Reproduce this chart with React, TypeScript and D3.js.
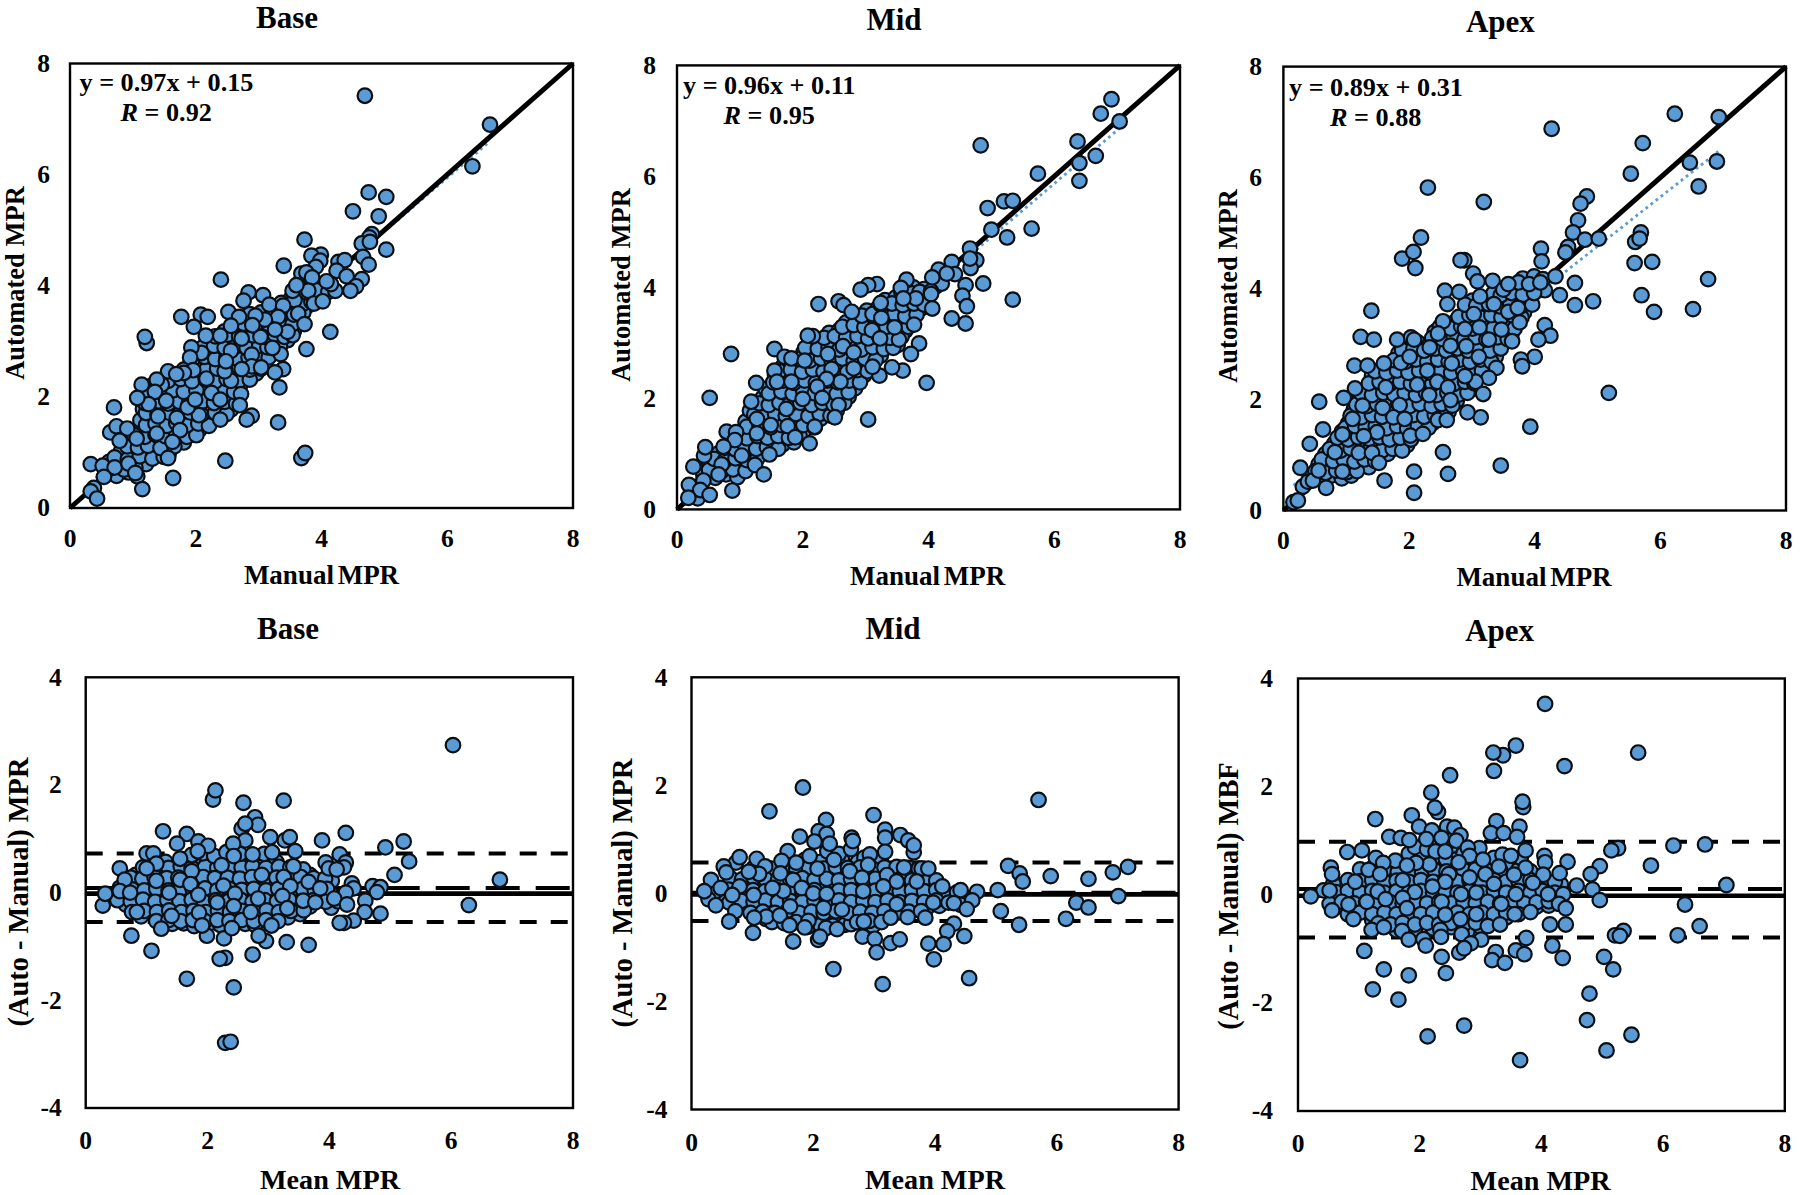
import React from "react";
import * as d3 from "d3";

type P = [number, number];

const xTicks = [0, 2, 4, 6, 8];
const scatterYTicks = [0, 2, 4, 6, 8];
const blandYTicks = [-4, -2, 0, 2, 4];

// Top row: Manual MPR (x) vs Automated MPR (y)
const baseCloud: P[] = [
[.56,.62],[.74,.58],[.93,.64],[1.07,.57],[.62,.83],[.83,.78],[1.02,.84],[1.21,.79],[.81,1.02],[.97,.96],[1.12,1.03],[1.27,.97],[1.42,1.04],[1.57,.98],
[.87,1.21],[1.03,1.18],[1.16,1.24],[1.31,1.17],[1.47,1.22],[1.62,1.25],[1.81,1.18],[1.11,1.42],[1.26,1.37],[1.41,1.43],[1.56,1.38],[1.72,1.44],[1.91,1.36],[2.06,1.41],
[1.12,1.58],[1.29,1.63],[1.46,1.57],[1.61,1.64],[1.77,1.58],[1.94,1.62],[2.11,1.57],[2.28,1.63],[1.16,1.78],[1.32,1.83],[1.51,1.77],[1.66,1.84],[1.84,1.79],[2.02,1.82],[2.21,1.76],[2.41,1.81],[2.56,1.77],
[1.26,2.02],[1.42,1.97],[1.59,2.03],[1.79,1.98],[1.96,2.04],[2.14,1.97],[2.34,2.02],[2.52,1.96],[1.31,2.21],[1.49,2.17],[1.66,2.23],[1.86,2.18],[2.03,2.24],[2.21,2.17],[2.39,2.23],[2.57,2.18],[2.71,2.22],
[1.71,2.38],[1.87,2.43],[2.06,2.37],[2.24,2.42],[2.42,2.38],[2.61,2.43],[2.79,2.37],[2.96,2.42],[1.91,2.58],[2.07,2.63],[2.26,2.57],[2.41,2.62],[2.59,2.58],[2.76,2.63],[2.94,2.57],[3.11,2.62],
[2.01,2.78],[2.21,2.83],[2.36,2.77],[2.54,2.82],[2.71,2.78],[2.91,2.83],[3.06,2.77],[3.21,2.81],[2.22,2.98],[2.41,3.03],[2.61,2.97],[2.81,3.02],[3.01,2.98],[3.16,3.03],[3.31,2.97],[3.46,3.02],
[2.46,3.18],[2.66,3.23],[2.86,3.17],[3.02,3.22],[3.21,3.18],[3.41,3.23],[3.56,3.18],[2.77,3.38],[2.92,3.42],[3.11,3.37],[3.31,3.42],[3.51,3.38],[3.66,3.43],[3.26,3.58],[3.46,3.62],[3.61,3.57],[3.76,3.62],[3.52,3.78],[3.66,3.83],[3.81,3.77],[3.96,3.82],[3.62,4.02],[3.82,3.98],[4.04,4.01]];
const baseDense: P[] = [
[.66,.72],[.86,.69],[1.04,.73],[.71,.91],[.92,.88],[1.11,.93],[1.31,.89],[1.49,.92],[.91,1.11],[1.08,1.09],[1.24,1.12],[1.44,1.08],[1.66,1.11],[1.02,1.31],[1.19,1.28],[1.36,1.32],[1.52,1.29],[1.69,1.33],[1.86,1.28],[2.01,1.31],
[1.21,1.49],[1.36,1.52],[1.54,1.48],[1.69,1.53],[1.86,1.49],[2.04,1.52],[2.21,1.48],[1.21,1.71],[1.39,1.68],[1.56,1.72],[1.74,1.69],[1.91,1.72],[2.09,1.68],[2.31,1.71],[2.49,1.69],[1.19,1.89],[1.41,1.92],[1.56,1.88],[1.74,1.91],[1.89,1.88],[2.11,1.92],[2.29,1.89],[2.46,1.91],[2.64,1.88],
[1.22,2.11],[1.44,2.08],[1.64,2.12],[1.81,2.09],[2.01,2.12],[2.26,2.08],[2.44,2.11],[2.61,2.09],[1.56,2.29],[1.76,2.32],[1.94,2.28],[2.16,2.31],[2.31,2.28],[2.49,2.32],[2.69,2.29],[2.86,2.31],[1.81,2.49],[1.99,2.52],[2.16,2.48],[2.34,2.51],[2.51,2.48],[2.69,2.52],[2.86,2.49],[3.04,2.51],
[1.96,2.69],[2.14,2.72],[2.31,2.68],[2.49,2.72],[2.66,2.69],[2.84,2.71],[3.01,2.68],[3.16,2.71],[2.11,2.89],[2.29,2.92],[2.46,2.88],[2.64,2.91],[2.81,2.88],[3.01,2.92],[3.14,2.89],[3.34,2.91],[2.31,3.09],[2.51,3.12],[2.69,3.08],[2.91,3.11],[3.09,3.08],[3.26,3.12],[3.41,3.08],[3.54,3.11],
[2.59,3.29],[2.76,3.32],[2.94,3.28],[3.16,3.31],[3.34,3.28],[3.54,3.31],[2.86,3.49],[3.04,3.52],[3.21,3.48],[3.39,3.51],[3.56,3.48],[3.71,3.52],[3.36,3.69],[3.56,3.72],[3.71,3.68],[3.84,3.71],[3.59,3.91],[3.76,3.88],[3.91,3.92],[4.11,3.89]];
const baseEdge: P[] = [
[6.4,6.15],[6.68,6.9],[4.69,7.42],[4.75,5.68],[5.03,5.6],[4.5,5.34],[4.91,5.25],[3.73,4.83],[4.8,4.93],[4.76,4.87],[4.64,4.76],[4.77,4.79],[5.03,4.65],[4.66,4.52],[4.75,4.38],[3.4,4.36],[3.99,4.56],[3.84,4.54],[3.98,4.45],[3.91,4.34],[4.27,4.43],[4.37,4.46],[4.24,4.27],[4.4,4.17],[4.64,4.12],[4.55,3.99],[4.46,3.91],[4.22,3.91],[4.15,4.03],[4.08,4.08],[3.68,4.22],[3.76,4.24],[3.85,4.15],[2.4,4.11],[3.79,3.91],[3.88,3.68],[4.02,3.72],[3.57,3.74],[3.54,3.91],[3.6,4.01],[3.07,3.83],[2.84,3.88],[2.76,3.73],[3.17,3.66],[3.39,3.64],[4.14,3.17],[3.76,2.86],[3.63,3.5],[3.73,3.31],[3.46,3.17],[3.31,3.44],[3.1,3.39],[3.26,3.21],[2.95,3.46],[2.52,3.53],[2.69,3.44],[2.56,3.28],[1.77,3.44],[2.08,3.48],[2.19,3.44],[1.97,3.26],[1.22,2.97],[1.19,3.08],[2.16,3.1],[2.39,3.1],[2.73,3.05],[3.03,3.08],[2.9,3.29],[3.35,2.77],[3.39,2.5],[3.26,2.44],[3.33,2.17],[3.22,2.88],[2.89,2.76],[2.89,2.55],[3.04,2.53],[2.56,2.83],[2.09,2.79],[1.93,2.89],[1.91,2.71],[2.73,2.5],[1.96,2.48],[1.81,2.43],[1.56,2.46],[1.69,2.41],[1.46,2.22],[1.38,2.31],[1.14,2.22],[1.35,2.09],[2.17,2.33],[2.56,2.29],[2.46,2.46],[2.48,2.64],[2.25,2.07],[2.72,2.05],[2.7,1.85],[2.89,1.66],[2.81,1.59],[2.39,1.59],[3.31,1.54],[2.05,1.67],[1.87,1.81],[1.53,1.93],[1.25,1.87],[1.07,1.98],[.7,1.81],[1.4,1.65],[1.7,1.62],[1.99,1.95],[2.39,1.95],[.64,1.36],[.74,1.47],[.91,1.43],[.79,1.21],[1.06,1.25],[1.38,1.34],[1.75,1.4],[1.63,1.19],[1.56,.9],[1.64,.54],[2.47,.85],[3.68,.9],[3.74,.99],[1.15,.34],[.33,.79],[.52,.76],[.71,.73],[.93,.8],[1.04,.63],[.54,.56],[.38,.36],[.33,.3],[.43,.17]];

const midCloud: P[] = [
[.42,.62],[.61,.57],[.78,.63],[.96,.58],[.51,.81],[.68,.76],[.86,.83],[1.04,.78],[1.21,.83],[.66,1.01],[.83,.96],[.99,1.03],[1.16,.97],[1.33,1.02],[.86,1.21],[1.02,1.17],[1.18,1.23],[1.34,1.18],[1.51,1.22],[1.68,1.17],[1.86,1.21],
[1.03,1.41],[1.19,1.37],[1.36,1.43],[1.53,1.38],[1.69,1.42],[1.86,1.37],[2.02,1.42],[1.09,1.58],[1.26,1.62],[1.43,1.57],[1.59,1.63],[1.76,1.58],[1.93,1.62],[2.11,1.57],[2.28,1.63],[1.16,1.78],[1.33,1.83],[1.49,1.77],[1.66,1.82],[1.83,1.78],[2.01,1.83],[2.19,1.77],[2.37,1.82],[2.54,1.78],
[1.36,2.01],[1.53,1.97],[1.71,2.03],[1.89,1.98],[2.07,2.03],[2.24,1.97],[2.42,2.02],[2.61,1.98],[2.73,2.03],[1.41,2.17],[1.59,2.22],[1.76,2.17],[1.94,2.23],[2.11,2.18],[2.29,2.22],[2.47,2.17],[2.66,2.23],[2.83,2.18],[1.56,2.42],[1.74,2.37],[1.91,2.43],[2.09,2.38],[2.27,2.42],[2.44,2.37],[2.63,2.43],[2.81,2.38],[2.98,2.42],
[1.68,2.57],[1.86,2.63],[2.03,2.57],[2.21,2.62],[2.39,2.58],[2.57,2.63],[2.76,2.57],[2.93,2.62],[3.07,2.58],[2.01,2.83],[2.19,2.77],[2.36,2.82],[2.53,2.78],[2.71,2.83],[2.89,2.77],[3.06,2.82],[3.24,2.77],[2.11,2.98],[2.29,3.02],[2.46,2.97],[2.63,3.03],[2.81,2.98],[2.98,3.02],[3.16,2.97],[3.34,3.03],[3.51,2.96],
[2.42,3.18],[2.58,3.23],[2.76,3.17],[2.93,3.22],[3.11,3.18],[3.29,3.23],[3.46,3.17],[3.63,3.22],[2.69,3.37],[2.87,3.43],[3.03,3.38],[3.21,3.42],[3.38,3.37],[3.56,3.43],[3.73,3.38],[3.02,3.58],[3.19,3.62],[3.37,3.57],[3.53,3.63],[3.71,3.58],[3.88,3.62],[3.31,3.77],[3.48,3.82],[3.66,3.78],[3.83,3.83],[3.98,3.78],[3.76,4.0],[3.93,3.97],[4.12,4.02],[4.21,4.07]];
const midDense: P[] = [
[.32,.41],[.51,.71],[.71,.69],[.89,.72],[1.09,.69],[.59,.91],[.76,.88],[.93,.92],[1.11,.89],[1.28,.92],[.76,1.11],[.93,1.08],[1.09,1.12],[1.26,1.09],[1.43,1.12],[1.61,1.09],[.94,1.31],[1.11,1.28],[1.28,1.32],[1.44,1.29],[1.61,1.32],[1.78,1.29],[1.95,1.32],
[1.11,1.49],[1.31,1.52],[1.49,1.48],[1.66,1.52],[1.84,1.48],[2.01,1.52],[2.19,1.48],[1.23,1.71],[1.39,1.68],[1.56,1.72],[1.73,1.69],[1.89,1.72],[2.09,1.68],[2.27,1.72],[2.44,1.69],[1.31,1.91],[1.46,1.88],[1.63,1.92],[1.79,1.89],[1.96,1.92],[2.14,1.88],[2.31,1.92],[2.49,1.89],[2.66,1.92],
[1.46,2.09],[1.66,2.12],[1.84,2.08],[2.01,2.12],[2.19,2.09],[2.37,2.12],[2.54,2.08],[2.73,2.11],[1.53,2.29],[1.69,2.32],[1.86,2.28],[2.03,2.32],[2.21,2.28],[2.39,2.32],[2.56,2.29],[2.74,2.32],[2.91,2.29],[1.63,2.49],[1.81,2.52],[1.99,2.48],[2.16,2.52],[2.33,2.48],[2.51,2.52],[2.71,2.48],[2.87,2.51],[3.03,2.49],
[1.93,2.71],[2.11,2.68],[2.29,2.72],[2.46,2.68],[2.63,2.72],[2.81,2.68],[2.99,2.72],[3.16,2.69],[2.04,2.91],[2.24,2.89],[2.41,2.92],[2.58,2.88],[2.76,2.92],[2.93,2.88],[3.11,2.92],[3.29,2.89],[3.44,2.91],[2.34,3.09],[2.51,3.12],[2.69,3.09],[2.87,3.12],[3.04,3.08],[3.21,3.12],[3.39,3.09],[3.57,3.11],
[2.63,3.29],[2.81,3.32],[2.98,3.28],[3.16,3.32],[3.33,3.29],[3.51,3.32],[3.68,3.29],[2.94,3.49],[3.11,3.52],[3.29,3.48],[3.46,3.52],[3.63,3.48],[3.81,3.51],[3.24,3.69],[3.42,3.71],[3.59,3.68],[3.77,3.71],[3.93,3.69],[3.57,3.91],[3.74,3.89],[3.86,3.92],[4.04,3.93]];
const midEdge: P[] = [
[6.91,7.39],[6.74,7.13],[7.04,6.99],[4.83,6.56],[6.37,6.63],[6.66,6.37],[6.4,6.24],[6.4,5.92],[5.74,6.05],[5.2,5.55],[5.34,5.56],[4.94,5.43],[5.0,5.04],[5.25,4.9],[5.64,5.06],[4.76,4.49],[4.67,4.35],[4.66,4.7],[4.66,4.52],[4.87,4.07],[5.34,3.78],[4.59,4.04],[4.54,3.85],[4.61,3.66],[4.59,3.35],[4.37,3.44],[4.37,4.46],[4.42,4.24],[4.16,4.32],[4.29,4.25],[4.06,4.18],[4.04,3.88],[4.06,3.62],[3.65,4.14],[3.56,3.99],[3.18,4.06],[3.04,4.04],[2.92,3.96],[3.8,3.8],[3.6,3.8],[3.24,3.72],[2.57,3.75],[2.65,3.68],[2.25,3.7],[2.78,3.56],[3.85,2.99],[3.72,2.8],[3.97,2.28],[3.59,2.5],[3.42,2.56],[3.22,2.41],[3.11,2.57],[3.04,1.62],[3.77,3.33],[3.53,3.06],[3.46,3.28],[3.25,3.45],[3.1,3.23],[3.23,3.08],[.86,2.8],[.52,2.01],[1.26,2.28],[1.55,2.89],[1.71,2.75],[1.82,2.72],[2.03,2.68],[2.16,3.12],[2.08,3.13],[1.55,2.5],[1.59,2.3],[1.82,2.3],[2.4,2.8],[2.46,2.53],[2.64,2.94],[2.81,2.83],[2.81,2.54],[2.6,2.3],[2.38,2.35],[2.23,2.21],[2.0,1.99],[2.31,2.01],[2.57,1.88],[2.51,1.66],[1.74,1.81],[1.27,1.63],[1.49,1.52],[1.76,1.5],[1.88,1.3],[2.11,1.19],[2.19,1.49],[1.18,1.94],[.79,1.4],[.94,1.39],[.92,1.25],[1.27,1.37],[.74,1.13],[.43,.97],[.45,1.12],[.26,.77],[.19,.44],[.42,.52],[.71,.81],[1.03,.97],[1.47,.99],[1.24,.8],[1.38,.63],[.88,.34],[.66,.63],[.33,.2],[.37,.35],[.52,.26],[.18,.21]];

const apexCloud: P[] = [
[.42,.62],[.59,.57],[.76,.63],[.93,.58],[1.08,.63],[.56,.83],[.71,.77],[.88,.82],[1.04,.78],[1.23,.83],[1.36,.78],[.67,1.02],[.83,.97],[.99,1.03],[1.16,.98],[1.31,1.03],[1.49,.97],[1.66,1.02],[.81,1.21],[.97,1.17],[1.14,1.23],[1.31,1.18],[1.47,1.22],[1.63,1.17],[1.81,1.22],[1.97,1.18],
[.93,1.42],[1.09,1.38],[1.26,1.43],[1.41,1.37],[1.59,1.42],[1.76,1.38],[1.92,1.43],[2.09,1.37],[1.03,1.57],[1.19,1.63],[1.36,1.58],[1.53,1.62],[1.69,1.57],[1.87,1.63],[2.03,1.58],[2.21,1.63],[2.37,1.57],[1.12,1.82],[1.29,1.77],[1.46,1.83],[1.62,1.78],[1.79,1.82],[1.96,1.77],[2.13,1.83],[2.31,1.77],[2.47,1.82],[2.63,1.78],
[1.21,2.02],[1.38,1.97],[1.55,2.03],[1.72,1.98],[1.89,2.03],[2.07,1.97],[2.23,2.02],[2.41,1.97],[2.57,2.03],[2.76,1.98],[1.29,2.18],[1.46,2.23],[1.63,2.17],[1.79,2.22],[1.97,2.18],[2.14,2.23],[2.31,2.17],[2.49,2.22],[2.66,2.17],[2.83,2.22],[2.99,2.18],
[1.41,2.42],[1.58,2.37],[1.75,2.43],[1.92,2.38],[2.09,2.43],[2.27,2.37],[2.44,2.42],[2.61,2.38],[2.79,2.43],[2.96,2.37],[1.71,2.62],[1.88,2.57],[2.06,2.63],[2.21,2.58],[2.39,2.62],[2.57,2.57],[2.73,2.63],[2.91,2.58],[3.08,2.62],[3.23,2.57],
[1.83,2.83],[2.01,2.78],[2.18,2.82],[2.36,2.77],[2.53,2.83],[2.71,2.78],[2.87,2.83],[3.04,2.77],[3.21,2.82],[3.38,2.77],[1.96,2.98],[2.14,3.03],[2.31,2.97],[2.48,3.02],[2.66,2.97],[2.83,3.03],[3.01,2.97],[3.18,3.02],[3.36,2.97],[3.52,3.03],
[2.41,3.22],[2.58,3.17],[2.76,3.23],[2.93,3.17],[3.11,3.22],[3.29,3.17],[3.46,3.22],[3.63,3.17],[2.71,3.38],[2.88,3.43],[3.06,3.37],[3.22,3.42],[3.39,3.37],[3.57,3.43],[3.73,3.38],[2.97,3.62],[3.14,3.57],[3.31,3.63],[3.48,3.57],[3.66,3.62],[3.83,3.57],[3.01,3.78],[3.23,3.82],[3.41,3.77],[3.58,3.83],[3.76,3.78],[3.93,3.82],[3.51,3.98],[3.68,4.02],[3.86,3.97],[4.03,4.02],[4.16,3.97],[3.81,4.18],[3.99,4.22],[4.13,4.17],[4.33,4.22]];
const apexDense: P[] = [
[.31,.43],[.39,.52],[.51,.71],[.67,.68],[.84,.72],[1.01,.69],[1.17,.71],[.61,.92],[.79,.89],[.96,.92],[1.13,.88],[1.29,.92],[1.46,.89],[.74,1.11],[.91,1.08],[1.07,1.12],[1.24,1.09],[1.39,1.12],[1.57,1.08],[1.74,1.11],[1.89,1.08],[.86,1.31],[1.03,1.28],[1.19,1.32],[1.36,1.29],[1.53,1.32],[1.69,1.28],[1.86,1.31],[2.03,1.28],
[.99,1.49],[1.14,1.52],[1.31,1.49],[1.47,1.52],[1.64,1.48],[1.81,1.52],[1.97,1.48],[2.14,1.52],[2.31,1.49],[1.07,1.71],[1.24,1.68],[1.41,1.72],[1.57,1.69],[1.74,1.72],[1.91,1.68],[2.07,1.72],[2.24,1.69],[2.41,1.72],[2.56,1.69],[1.16,1.91],[1.33,1.88],[1.49,1.92],[1.67,1.89],[1.83,1.92],[2.01,1.88],[2.17,1.92],[2.36,1.88],[2.52,1.92],[2.69,1.89],
[1.24,2.11],[1.41,2.08],[1.59,2.12],[1.76,2.09],[1.93,2.12],[2.11,2.08],[2.27,2.12],[2.44,2.08],[2.61,2.12],[2.79,2.09],[2.93,2.12],[1.36,2.29],[1.53,2.32],[1.69,2.28],[1.86,2.32],[2.03,2.28],[2.21,2.32],[2.37,2.28],[2.54,2.32],[2.71,2.28],[2.89,2.32],[3.04,2.29],[1.46,2.51],[1.64,2.48],[1.81,2.52],[1.99,2.48],[2.16,2.52],[2.33,2.48],[2.51,2.52],[2.67,2.48],[2.86,2.52],[3.02,2.49],[3.16,2.52],
[1.76,2.71],[1.94,2.68],[2.11,2.72],[2.29,2.68],[2.46,2.72],[2.63,2.68],[2.81,2.72],[2.97,2.68],[3.14,2.72],[3.31,2.68],[1.89,2.89],[2.07,2.92],[2.24,2.88],[2.42,2.92],[2.59,2.88],[2.77,2.92],[2.94,2.88],[3.11,2.92],[3.29,2.88],[3.46,2.92],[2.03,3.12],[2.37,3.11],[2.53,3.09],[2.71,3.12],[2.88,3.08],[3.06,3.12],[3.23,3.08],[3.41,3.12],[3.57,3.09],
[2.49,3.31],[2.66,3.28],[2.83,3.32],[3.01,3.28],[3.17,3.32],[3.34,3.28],[3.52,3.32],[3.68,3.28],[2.79,3.49],[2.96,3.52],[3.13,3.48],[3.31,3.52],[3.47,3.48],[3.64,3.52],[3.79,3.48],[2.89,3.71],[3.07,3.69],[3.27,3.72],[3.44,3.68],[3.61,3.72],[3.79,3.69],[3.96,3.71],[3.34,3.91],[3.46,3.88],[3.63,3.92],[3.81,3.89],[3.99,3.92],[3.74,4.11],[3.91,4.08],[4.09,4.11]];
const apexEdge: P[] = [
[6.23,7.15],[6.93,7.09],[4.27,6.88],[5.72,6.62],[6.47,6.27],[6.9,6.29],[5.53,6.07],[6.61,5.84],[2.3,5.82],[3.19,5.56],[4.83,5.66],[4.73,5.53],[4.69,5.23],[4.61,5.01],[4.8,4.88],[5.02,4.9],[5.69,5.01],[5.6,4.84],[5.67,4.9],[5.59,4.46],[5.87,4.48],[6.76,4.17],[5.7,3.88],[5.9,3.58],[6.52,3.63],[2.19,4.92],[1.89,4.54],[2.07,4.66],[2.1,4.37],[4.1,4.72],[4.53,4.75],[4.49,4.65],[4.11,4.49],[4.64,4.1],[4.64,3.7],[4.93,3.77],[4.4,3.88],[4.16,3.34],[4.25,3.15],[4.06,3.08],[4.0,2.77],[3.78,2.72],[3.8,2.6],[5.18,2.12],[3.93,1.51],[3.14,1.68],[2.93,1.77],[3.46,.81],[1.61,.54],[2.08,.7],[2.62,.66],[2.54,1.05],[2.08,.32],[2.88,4.51],[2.82,4.51],[3.02,4.27],[3.09,4.13],[3.33,4.14],[2.57,3.96],[2.8,3.94],[2.61,3.72],[3.13,3.86],[3.5,3.98],[3.58,4.08],[3.35,3.72],[3.58,3.58],[3.73,3.65],[3.76,3.39],[3.47,3.26],[3.64,3.05],[3.39,2.57],[3.27,2.39],[3.06,2.32],[3.18,2.1],[2.89,2.42],[2.91,2.96],[3.11,2.77],[3.27,3.08],[3.12,3.3],[3.03,3.54],[2.89,3.27],[2.66,2.97],[2.68,2.65],[2.54,3.41],[2.46,3.19],[2.08,3.08],[1.81,3.08],[1.87,2.66],[2.01,2.77],[2.33,2.94],[2.29,2.52],[2.45,2.32],[2.13,2.27],[2.62,2.22],[2.66,1.99],[2.32,2.08],[1.85,1.9],[1.58,1.85],[1.63,2.22],[1.14,2.2],[.96,2.03],[.57,1.96],[1.26,1.89],[1.1,1.65],[.94,1.37],[.63,1.46],[.42,1.2],[1.13,2.61],[1.34,2.61],[1.6,2.65],[1.23,3.13],[1.44,3.08],[1.4,3.6],[1.49,1.41],[1.28,1.34],[1.75,1.68],[1.93,1.65],[2.02,1.35],[2.22,1.38],[2.46,1.63],[2.6,1.63],[1.2,1.04],[1.41,1.04],[1.52,.86],[.82,1.05],[.94,.7],[.68,.41],[.47,.54],[.27,.77],[.56,.72],[.16,.15],[.23,.18]];

// Bottom row: Mean MPR (x) vs difference (y)
const baseDiffCloud: P[] = [
[.82,.33],[1.02,.38],[1.21,.36],[1.42,.41],[1.63,.37],[1.84,.42],[2.03,.38],[2.22,.41],[2.43,.36],[2.64,.42],[2.84,.37],[3.03,.41],[3.24,.36],[3.46,.38],[3.68,.33],[1.31,.57],[1.52,.53],[1.71,.58],[1.93,.55],[2.13,.52],[2.33,.57],[2.53,.53],[2.76,.58],[2.94,.53],[3.13,.57],
[.67,.11],[.87,.17],[1.06,.12],[1.26,.18],[1.47,.13],[1.68,.18],[1.88,.12],[2.08,.17],[2.28,.13],[2.48,.18],[2.68,.12],[2.87,.17],[3.07,.13],[3.27,.18],[3.47,.12],[3.68,.16],[3.88,.12],[4.04,.22],
[.46,-.04],[.62,-.09],[.83,-.03],[1.03,-.08],[1.22,-.02],[1.44,-.09],[1.64,-.03],[1.83,-.08],[2.04,-.02],[2.23,-.09],[2.44,-.03],[2.63,-.08],[2.84,-.02],[3.04,-.09],[3.23,-.03],[3.44,-.08],[3.64,-.02],[3.84,-.08],[4.02,-.02],
[.66,-.22],[.87,-.27],[1.06,-.21],[1.27,-.28],[1.46,-.22],[1.67,-.27],[1.87,-.21],[2.07,-.28],[2.27,-.22],[2.47,-.27],[2.66,-.21],[2.87,-.28],[3.07,-.22],[3.26,-.27],[3.47,-.21],[3.68,-.26],[4.03,-.28],
[.91,-.44],[1.12,-.41],[1.31,-.46],[1.52,-.42],[1.72,-.47],[1.92,-.41],[2.12,-.46],[2.32,-.42],[2.52,-.47],[2.72,-.41],[2.92,-.46],[3.12,-.42],[3.32,-.46],[3.52,-.4],[1.42,-.58],[1.61,-.57],[1.78,-.62],[2.02,-.58],[2.21,-.6],[2.62,-.58],[2.78,-.6],[3.02,-.57]];
const baseDiffDense: P[] = [
[.94,.47],[1.13,.49],[1.36,.46],[1.56,.49],[1.74,.46],[1.96,.48],[2.16,.46],[2.36,.49],[2.56,.47],[2.74,.49],[2.96,.46],[3.17,.48],[3.36,.47],[3.57,.43],[1.74,.7],[1.92,.73],[2.11,.68],[2.31,.75],[2.53,.72],[2.93,.72],[.74,.28],[.93,.26],[1.13,.29],[1.33,.27],[1.52,.28],[1.73,.26],[1.93,.29],[2.12,.27],[2.33,.28],[2.53,.26],[2.73,.29],[2.93,.27],[3.13,.28],[3.33,.26],[3.53,.29],[3.74,.27],[3.93,.26],
[.56,.09],[.76,.06],[.96,.04],[1.16,.07],[1.36,.04],[1.56,.07],[1.76,.05],[1.96,.08],[2.16,.04],[2.36,.07],[2.56,.05],[2.76,.07],[2.96,.04],[3.16,.07],[3.36,.04],[3.56,.07],[3.76,.04],[3.96,.07],[.52,-.14],[.74,-.16],[.94,-.13],[1.14,-.17],[1.34,-.14],[1.54,-.16],[1.74,-.13],[1.94,-.17],[2.14,-.14],[2.34,-.16],[2.54,-.13],[2.74,-.17],[2.94,-.14],[3.14,-.16],[3.34,-.13],[3.74,-.14],[3.94,-.17],[4.14,-.16],
[.76,-.36],[.96,-.34],[1.17,-.36],[1.37,-.33],[1.57,-.36],[1.77,-.34],[1.97,-.36],[2.17,-.33],[2.37,-.36],[2.57,-.34],[2.77,-.36],[2.97,-.33],[3.17,-.36],[3.37,-.34],[3.58,-.33],[1.16,-.53],[1.36,-.51],[1.56,-.53],[1.76,-.51],[1.96,-.53],[2.16,-.51],[2.36,-.53],[2.56,-.51],[2.76,-.53],[2.96,-.51],[3.16,-.53]];
const baseDiffEdge: P[] = [
[6.03,2.74],[2.09,1.73],[2.13,1.9],[2.59,1.67],[3.25,1.71],[2.78,1.4],[2.83,1.26],[2.56,1.19],[2.62,1.28],[1.27,1.14],[1.66,1.09],[4.27,1.11],[3.03,1.03],[3.27,.97],[3.35,1.03],[3.88,.97],[5.22,.95],[4.92,.84],[2.62,.97],[1.5,.91],[1.85,.95],[2.01,.87],[2.42,.91],[1.84,.77],[3.44,.77],[3.06,.75],[2.74,.71],[4.17,.71],[5.31,.58],[1.0,.73],[1.11,.73],[1.16,.54],[.56,.45],[1.0,.45],[1.55,.63],[2.23,.51],[2.43,.68],[3.41,.49],[3.94,.56],[3.99,.45],[4.27,.56],[4.24,.47],[4.12,.43],[5.07,.33],[6.8,.24],[1.74,.4],[.64,.24],[1.16,.22],[1.55,.24],[2.89,.33],[3.25,.29],[3.66,.2],[2.26,.13],[1.72,.16],[3.36,.12],[3.85,.08],[4.37,.17],[4.4,.08],[4.71,.12],[4.84,.1],[4.78,.01],[4.27,0],[.28,-.24],[.32,-.02],[.56,.03],[.73,0],[1.37,0],[1.85,-.04],[2.45,-.02],[2.83,-.11],[3.23,-.06],[4.08,-.11],[4.59,-.15],[3.57,-.15],[3.77,-.18],[4.29,-.22],[6.29,-.23],[.84,-.36],[1.41,-.43],[1.86,-.37],[2.16,-.18],[2.43,-.25],[2.71,-.36],[3.05,-.61],[3.31,-.29],[4.58,-.36],[4.84,-.39],[4.4,-.52],[4.24,-.56],[4.17,-.56],[1.24,-.67],[.75,-.8],[1.08,-1.08],[1.66,-1.6],[2.27,-.85],[1.99,-.8],[2.4,-.66],[1.91,-.61],[2.96,-.9],[2.84,-.8],[3.3,-.92],[3.66,-.97],[2.74,-1.15],[2.29,-1.21],[2.2,-1.23],[2.43,-1.76],[2.29,-2.79],[2.38,-2.77]];

const midDiffCloud: P[] = [
[1.22,.33],[1.41,.38],[1.62,.33],[1.82,.39],[2.02,.34],[2.22,.38],[2.42,.33],[2.62,.39],[2.82,.34],[3.02,.38],[3.22,.33],[3.42,.37],[3.62,.32],[1.68,.53],[1.86,.62],[2.11,.58],[2.31,.53],[2.47,.62],[2.73,.58],[2.91,.53],[3.12,.57],[2.23,.78],[2.42,.73],[2.62,.82],[2.84,.66],[3.07,.63],
[.73,.18],[.91,.13],[1.11,.18],[1.31,.12],[1.52,.17],[1.71,.13],[1.92,.18],[2.11,.12],[2.31,.17],[2.51,.13],[2.71,.18],[2.91,.12],[3.11,.17],[3.31,.13],[3.51,.18],[3.72,.12],[3.91,.17],[4.12,.03],
[.52,-.08],[.71,-.02],[.92,-.09],[1.11,-.03],[1.32,-.08],[1.52,-.02],[1.72,-.09],[1.92,-.03],[2.12,-.08],[2.32,-.02],[2.52,-.09],[2.72,-.03],[2.92,-.08],[3.12,-.02],[3.32,-.09],[3.52,-.03],[3.72,-.08],[3.92,-.03],[4.16,-.08],
[.87,-.22],[1.07,-.28],[1.27,-.21],[1.47,-.27],[1.67,-.22],[1.87,-.28],[2.07,-.21],[2.27,-.27],[2.47,-.22],[2.67,-.28],[2.87,-.21],[3.07,-.27],[3.27,-.22],[3.47,-.27],[3.67,-.21],[3.87,-.26],[4.07,-.23],[4.33,-.12],
[1.22,-.47],[1.42,-.42],[1.62,-.47],[1.82,-.42],[2.02,-.46],[2.22,-.42],[2.42,-.47],[2.62,-.42],[2.82,-.46],[3.02,-.42],[3.22,-.4],[1.91,-.62],[2.12,-.59],[2.32,-.6],[2.52,-.58],[2.62,-.57],[2.98,-.6]];
const midDiffDense: P[] = [
[1.02,.47],[1.31,.46],[1.52,.49],[1.72,.46],[1.93,.48],[2.17,.46],[2.37,.49],[2.57,.47],[2.77,.48],[2.97,.46],[3.17,.48],[3.37,.49],[3.57,.47],[3.73,.46],[.64,.28],[.83,.26],[1.02,.29],[1.21,.27],[1.42,.24],[1.62,.26],[1.82,.28],[2.02,.25],[2.22,.27],[2.42,.24],[2.62,.27],[2.82,.24],[3.02,.27],[3.22,.24],[3.42,.26],[3.62,.24],[3.82,.27],[4.02,.24],
[.41,.05],[.61,.07],[.81,.04],[1.01,.06],[1.21,.04],[1.41,.06],[1.62,.05],[1.82,.03],[2.02,.06],[2.42,.05],[2.62,.06],[3.02,.05],[3.22,.06],[3.42,.04],[3.62,.06],[3.82,.04],[4.02,.06],[4.22,-.03],[4.36,.02],[.62,-.17],[.82,-.14],[1.02,-.16],[1.22,-.13],[1.42,-.16],[1.62,-.14],[1.82,-.16],[2.02,-.13],[2.22,-.16],[2.42,-.13],[2.62,-.16],[2.82,-.14],[3.02,-.16],[3.22,-.13],[3.42,-.16],[3.62,-.14],[3.82,-.16],[4.02,-.13],[4.22,-.17],[4.42,-.21],
[.72,-.33],[.97,-.36],[1.17,-.34],[1.37,-.36],[1.57,-.33],[1.77,-.36],[1.97,-.34],[2.17,-.36],[2.37,-.33],[2.57,-.36],[2.77,-.34],[2.97,-.36],[3.17,-.33],[3.37,-.36],[3.57,-.34],[3.77,-.33],[1.32,-.53],[1.52,-.55],[1.72,-.53],[1.92,-.51],[2.72,-.53],[2.92,-.51],[3.12,-.53]];
const midDiffEdge: P[] = [
[5.7,1.73],[1.83,1.96],[1.28,1.52],[2.99,1.45],[2.21,1.36],[3.18,1.18],[3.18,1.03],[3.43,1.08],[2.09,1.15],[2.22,1.1],[1.78,1.05],[2.63,1.03],[2.65,.97],[2.02,.96],[2.27,.92],[3.56,.98],[3.65,.76],[3.65,.89],[3.18,.77],[.73,.57],[.79,.67],[1.07,.64],[2.34,.62],[1.94,.69],[2.93,.72],[1.58,.78],[2.9,.53],[.53,.5],[1.21,.5],[1.48,.6],[1.72,.57],[2.07,.46],[2.6,.41],[3.49,.48],[3.78,.46],[3.89,.46],[5.2,.51],[7.17,.49],[5.39,.37],[6.92,.39],[5.44,.22],[5.9,.32],[6.52,.27],[1.11,.36],[1.46,.37],[.57,.39],[.94,.4],[.32,.25],[2.8,.29],[3.21,.34],[3.7,.22],[3.37,.22],[1.67,.25],[.79,.13],[1.81,.1],[3.15,.13],[4.12,.13],[.28,-.11],[.21,.04],[.48,.1],[5.03,.06],[4.42,.06],[4.69,.03],[1.51,.04],[2.0,0],[2.82,.04],[2.22,-.01],[1.33,.1],[.67,-.03],[1.02,-.03],[.4,-.22],[7.01,-.05],[3.97,-.17],[4.61,-.13],[4.31,-.18],[3.37,-.2],[6.32,-.17],[6.52,-.26],[1.62,-.24],[2.17,-.27],[2.47,-.3],[5.08,-.33],[4.52,-.29],[1.23,-.43],[1.03,-.45],[.62,-.52],[6.15,-.47],[1.45,-.41],[2.83,-.52],[3.27,-.45],[3.55,-.44],[3.84,-.45],[5.38,-.58],[4.31,-.56],[4.2,-.7],[1.01,-.73],[1.61,-.59],[1.67,-.89],[1.86,-.63],[2.21,-.64],[2.39,-.66],[2.08,-.86],[2.11,-.8],[2.81,-.8],[3.01,-.84],[3.27,-.92],[3.42,-.85],[3.89,-.93],[4.14,-.94],[4.48,-.79],[3.04,-1.09],[3.98,-1.22],[2.33,-1.4],[3.14,-1.68],[4.56,-1.57]];

const apexDiffCloud: P[] = [
[1.12,.33],[1.32,.38],[1.52,.33],[1.72,.39],[1.92,.34],[2.12,.38],[2.32,.33],[2.52,.39],[2.72,.34],[2.92,.38],[3.12,.33],[3.32,.39],[3.52,.34],[3.72,.32],[1.62,.53],[1.82,.58],[2.02,.53],[2.22,.58],[2.42,.53],[2.62,.47],[2.82,.52],[3.02,.47],[3.42,.56],[1.82,.76],[2.03,.72],[2.43,.66],[2.63,.78],[2.91,.62],
[.72,.18],[.92,.13],[1.12,.18],[1.32,.12],[1.52,.17],[1.72,.13],[1.92,.18],[2.12,.12],[2.32,.17],[2.52,.13],[2.72,.18],[2.92,.12],[3.12,.17],[3.32,.13],[3.52,.18],[3.72,.12],[3.92,.17],[4.16,.13],[4.32,.19],
[.62,-.08],[.82,-.02],[1.02,-.09],[1.22,-.03],[1.42,-.08],[1.62,-.02],[1.82,-.09],[2.02,-.03],[2.22,-.08],[2.42,-.02],[2.62,-.09],[2.82,-.03],[3.02,-.08],[3.22,-.02],[3.42,-.09],[3.62,-.03],[3.82,-.08],[4.02,-.03],
[.72,-.22],[.92,-.28],[1.12,-.23],[1.32,-.27],[1.52,-.22],[1.72,-.28],[1.92,-.21],[2.12,-.27],[2.32,-.22],[2.52,-.28],[2.72,-.21],[2.92,-.27],[3.12,-.22],[3.32,-.28],[3.52,-.21],[3.72,-.27],[3.92,-.22],[4.12,-.2],
[1.22,-.47],[1.42,-.42],[1.62,-.47],[1.82,-.42],[2.02,-.46],[2.22,-.42],[2.42,-.47],[2.62,-.62],[2.82,-.46],[3.02,-.62],[3.22,-.5],[3.42,-.42],[1.62,-.66],[1.92,-.64],[2.22,-.62],[2.52,-.6],[2.78,-.68]];
const apexDiffDense: P[] = [
[1.02,.47],[1.22,.49],[1.42,.46],[1.64,.42],[1.84,.46],[2.04,.42],[2.24,.46],[2.44,.43],[2.72,.46],[2.92,.47],[3.12,.46],[3.32,.46],[3.62,.46],[3.82,.43],[1.92,.88],[2.12,.84],[2.52,.9],[2.32,.92],[2.72,.76],[3.22,.68],[3.36,.74],[3.66,.68],[.58,.2],[.82,.27],[1.02,.25],[1.22,.27],[1.42,.24],[1.62,.26],[1.82,.24],[2.02,.27],[2.22,.24],[2.42,.27],[2.62,.24],[2.82,.26],[3.02,.24],[3.22,.27],[3.42,.24],[3.62,.26],[3.82,.27],[4.02,.25],[4.22,.24],
[.42,.08],[.62,.05],[.82,.07],[1.02,.04],[1.22,.07],[1.42,.04],[1.62,.06],[1.82,.04],[2.02,.07],[2.22,.04],[2.42,.07],[2.62,.04],[2.82,.07],[3.02,.04],[3.22,.07],[3.42,.04],[3.62,.07],[3.82,.04],[4.02,.07],[4.22,.04],[.52,-.17],[.72,-.13],[.92,-.16],[1.12,-.13],[1.32,-.16],[1.52,-.14],[1.72,-.16],[1.92,-.13],[2.12,-.16],[2.32,-.13],[2.52,-.16],[2.72,-.14],[2.92,-.16],[3.12,-.13],[3.32,-.16],[3.52,-.13],[3.72,-.16],[3.92,-.14],[4.12,-.12],
[.82,-.36],[1.02,-.33],[1.22,-.36],[1.42,-.33],[1.62,-.36],[1.82,-.33],[2.02,-.36],[2.22,-.33],[2.42,-.36],[2.62,-.33],[2.82,-.36],[3.02,-.33],[3.22,-.36],[3.42,-.33],[3.62,-.36],[1.32,-.53],[1.52,-.55],[1.72,-.52],[1.92,-.55],[2.12,-.52],[2.32,-.55],[2.52,-.52],[2.72,-.55],[2.92,-.52],[3.12,-.58],[3.32,-.55]];
const apexDiffEdge: P[] = [
[4.06,3.53],[3.37,2.58],[3.21,2.63],[3.58,2.76],[3.22,2.29],[5.59,2.63],[4.38,2.38],[2.5,2.21],[2.19,1.89],[3.7,1.62],[3.69,1.72],[2.3,1.53],[2.25,1.61],[1.87,1.47],[1.27,1.4],[3.26,1.36],[3.64,1.26],[1.99,1.26],[2.45,1.26],[2.57,1.24],[2.67,1.1],[2.2,1.19],[3.17,1.14],[3.38,1.14],[3.6,1.07],[1.5,1.07],[1.69,1.05],[1.83,1.01],[2.11,1.03],[2.36,1.05],[2.6,1.0],[5.26,.86],[5.15,.82],[6.17,.91],[6.69,.93],[3.74,.82],[2.98,.86],[2.79,.87],[1.05,.82],[.81,.79],[1.28,.68],[2.26,.8],[2.42,.8],[2.82,.72],[3.04,.65],[3.5,.72],[4.05,.72],[4.06,.6],[4.43,.61],[2.64,.6],[2.16,.56],[1.6,.63],[1.4,.59],[1.94,.59],[1.79,.54],[5.8,.54],[3.3,.52],[3.74,.5],[.54,.5],[1.16,.46],[4.96,.53],[4.81,.38],[4.3,.4],[4.03,.37],[3.08,.38],[3.55,.37],[2.48,.38],[2.82,.32],[1.35,.38],[.56,.38],[1.72,.27],[.94,.24],[2.42,.24],[3.22,.2],[3.86,.22],[4.58,.17],[7.04,.18],[2.21,.15],[4.84,.1],[.52,.08],[1.31,.06],[1.92,.05],[2.93,.04],[2.68,.01],[3.58,.01],[4.36,.01],[.21,-.03],[1.72,-.06],[4.11,.01],[4.96,-.1],[1.13,-.13],[2.36,-.13],[3.34,-.17],[4.29,-.17],[6.36,-.18],[.56,-.29],[.83,-.18],[1.44,-.08],[1.79,-.25],[.91,-.45],[2.93,-.36],[2.42,-.37],[3.56,-.36],[3.82,-.32],[4.4,-.25],[2.67,-.45],[4.4,-.55],[4.14,-.55],[6.6,-.58],[1.21,-.65],[1.41,-.6],[1.71,-.67],[2.34,-.65],[5.35,-.67],[5.21,-.75],[5.29,-.76],[6.24,-.75],[3.75,-.8],[2.69,-.73],[1.82,-.83],[2.06,-.82],[2.35,-.78],[3.01,-.83],[2.84,-.9],[2.1,-.94],[4.18,-.94],[2.65,-1.07],[2.73,-.99],[3.25,-1.06],[3.58,-1.03],[3.72,-1.1],[1.09,-1.04],[2.36,-1.15],[4.35,-1.17],[3.19,-1.21],[3.4,-1.26],[5.03,-1.15],[5.18,-1.38],[1.41,-1.38],[2.43,-1.45],[1.82,-1.49],[1.23,-1.75],[1.65,-1.94],[4.79,-1.83],[4.75,-2.32],[2.73,-2.42],[2.13,-2.62],[5.48,-2.59],[5.07,-2.88],[3.65,-3.06]];

const fits = [
  { slope: 0.966, intercept: 0.146, xStart: 0.33, xEnd: 6.68, eq: "y = 0.97x + 0.15", r: " = 0.92" },
  { slope: 0.96, intercept: 0.11, xStart: 0.18, xEnd: 7.04, eq: "y = 0.96x + 0.11", r: " = 0.95" },
  { slope: 0.89, intercept: 0.31, xStart: 0.16, xEnd: 6.93, eq: "y = 0.89x + 0.31", r: " = 0.88" },
];
const limits = [
  { upper: 0.727, mean: 0.085, lower: -0.543 },
  { upper: 0.57, mean: 0.01, lower: -0.513 },
  { upper: 0.98, mean: 0.105, lower: -0.79 },
];
const titles = ["Base", "Mid", "Apex"];
const diffLabels = ["(Auto - Manual) MPR", "(Auto - Manual) MPR", "(Auto - Manual) MBF"];
const scatterPts = [baseCloud.concat(baseDense, baseEdge), midCloud.concat(midDense, midEdge), apexCloud.concat(apexDense, apexEdge)];
const diffPts = [baseDiffCloud.concat(baseDiffDense, baseDiffEdge), midDiffCloud.concat(midDiffDense, midDiffEdge), apexDiffCloud.concat(apexDiffDense, apexDiffEdge)];

// layout (pixels)
const topLayout = [
  { l: 70, r: 573, t: 63.5, b: 508, tx: 287, tb: 28, xt: 546.7, xl: 321.5, xb: 583.6, yr: 50, ylx: 24, yly: 283, ex: 79.5, eb: 90.7, rx: 120.5, rb: 121 },
  { l: 677, r: 1180, t: 65.4, b: 509.4, tx: 894, tb: 30, xt: 548, xl: 927.6, xb: 585, yr: 656, ylx: 630, yly: 285, ex: 683, eb: 94, rx: 723.6, rb: 124 },
  { l: 1283.4, r: 1786, t: 66.6, b: 510.5, tx: 1500.4, tb: 32, xt: 549, xl: 1534, xb: 586, yr: 1262, ylx: 1237, yly: 286, ex: 1289, eb: 95.7, rx: 1330, rb: 126 },
];
const botLayout = [
  { l: 85.7, r: 573, t: 677.3, b: 1108, tx: 288, tb: 639, xt: 1149, xl: 330, xb: 1189, yr: 61.7, ylx: 28, yly: 892 },
  { l: 691.5, r: 1178.6, t: 677.3, b: 1109.5, tx: 893, tb: 639, xt: 1151, xl: 935, xb: 1189, yr: 667.5, ylx: 632, yly: 893 },
  { l: 1298, r: 1784.8, t: 678.5, b: 1111, tx: 1499.6, tb: 641, xt: 1152, xl: 1540.6, xb: 1190, yr: 1273, ylx: 1238, yly: 896 },
];

const INK = "#000";
const FILL = "#5B9BD5";
const FONT = "'Liberation Serif', 'Times New Roman', serif";
const R = 7.3;

function Dots({ pts, x, y }: { pts: P[]; x: any; y: any }) {
  return (
    <g>
      {pts.map((d, i) => (
        <circle key={i} cx={x(d[0])} cy={y(d[1])} r={R} fill={FILL} stroke="#0a0f14" strokeWidth={2.2} />
      ))}
    </g>
  );
}

function Common({ L, x, y, yTicks, title, xLabel, yLabel, xSize, ySize, xSpace }: any) {
  return (
    <g fontFamily={FONT} fontWeight="bold" fill={INK}>
      <rect x={L.l} y={L.t} width={L.r - L.l} height={L.b - L.t} fill="none" stroke={INK} strokeWidth={2.4} />
      <text x={L.tx} y={L.tb} textAnchor="middle" fontSize={31}>{title}</text>
      {xTicks.map((t) => (
        <text key={t} x={x(t)} y={L.xt} textAnchor="middle" fontSize={25.5}>{t}</text>
      ))}
      {yTicks.map((t: number) => (
        <text key={t} x={L.yr} y={y(t)} dy="0.33em" textAnchor="end" fontSize={25.5}>{t}</text>
      ))}
      <text x={L.xl} y={L.xb} textAnchor="middle" fontSize={xSize} wordSpacing={xSpace}>{xLabel}</text>
      <text transform={`translate(${L.ylx},${L.yly}) rotate(-90)`} textAnchor="middle" fontSize={ySize}>{yLabel}</text>
    </g>
  );
}

function ScatterPanel({ i }: { i: number }) {
  const L = topLayout[i];
  const fit = fits[i];
  const x = d3.scaleLinear().domain([0, 8]).range([L.l, L.r]);
  const y = d3.scaleLinear().domain([0, 8]).range([L.b, L.t]);
  const line = d3.line<number>().x((v) => x(v)).y((v) => y(fit.slope * v + fit.intercept));
  const diag = d3.line<number>().x((v) => x(v)).y((v) => y(v));
  return (
    <g>
      <path d={line([fit.xStart, fit.xEnd]) || ""} fill="none" stroke={FILL} strokeWidth={2.8} strokeDasharray="2.8 3.6" />
      <path d={diag([0, 8]) || ""} fill="none" stroke={INK} strokeWidth={5} />
      <Dots pts={scatterPts[i]} x={x} y={y} />
      <Common L={L} x={x} y={y} yTicks={scatterYTicks} title={titles[i]} xLabel="Manual MPR" yLabel="Automated MPR" xSize={27} xSpace={-3} ySize={26.5} />
      <g fontFamily={FONT} fontWeight="bold" fill={INK} fontSize={26.2}>
        <text x={L.ex} y={L.eb}>{fit.eq}</text>
        <text x={L.rx} y={L.rb}><tspan fontStyle="italic">R</tspan>{fit.r}</text>
      </g>
    </g>
  );
}

function DiffPanel({ i }: { i: number }) {
  const L = botLayout[i];
  const lim = limits[i];
  const x = d3.scaleLinear().domain([0, 8]).range([L.l, L.r]);
  const y = d3.scaleLinear().domain([-4, 4]).range([L.b, L.t]);
  return (
    <g>
      <line x1={x(0)} x2={x(8)} y1={y(0) + 1} y2={y(0) + 1} stroke={INK} strokeWidth={4.6} />
      {[lim.upper, lim.mean, lim.lower].map((v, k) => (
        <line key={k} x1={x(0)} x2={x(8)} y1={y(v)} y2={y(v)} stroke={INK} strokeWidth={4} strokeDasharray={k === 1 ? "34 16" : "17 14"} />
      ))}
      <Dots pts={diffPts[i]} x={x} y={y} />
      <Common L={L} x={x} y={y} yTicks={blandYTicks} title={titles[i]} xLabel="Mean MPR" yLabel={diffLabels[i]} xSize={28.2} xSpace={0} ySize={28.4} />
    </g>
  );
}

export default function App() {
  return (
    <svg width={1800} height={1195} style={{ position: "absolute", left: 0, top: 0, background: "#fff" }}>
      {[0, 1, 2].map((i) => <ScatterPanel key={i} i={i} />)}
      {[0, 1, 2].map((i) => <DiffPanel key={i} i={i} />)}
    </svg>
  );
}
